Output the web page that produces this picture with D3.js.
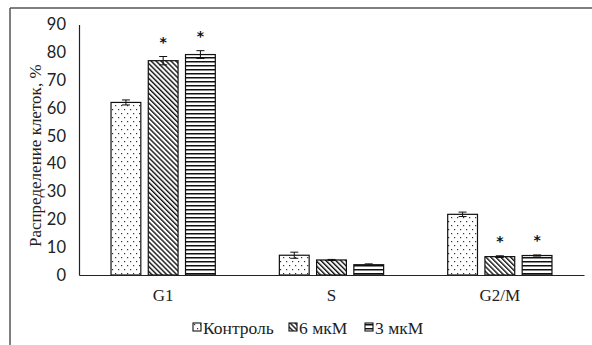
<!DOCTYPE html>
<html>
<head>
<meta charset="utf-8">
<script src="https://cdn.jsdelivr.net/npm/d3@7/dist/d3.min.js"></script>
<style>
  html, body { margin: 0; padding: 0; background: #fff; }
  svg { display: block; }
</style>
</head>
<body>
<svg id="chart" width="592" height="345"></svg>
<script>
// Cell cycle phases and treatment groups
const categories = ["G1", "S", "G2/M"];
const seriesNames = ["Контроль", "6 мкМ", "3 мкМ"];

// Percent of cells in each phase
const controlValues = [62, 7.1, 21.8];
const dose6Values = [77, 5.4, 6.6];
const dose3Values = [79.2, 3.7, 7.0];

// Error bar half-widths
const controlErrors = [0.9, 1.1, 0.8];
const dose6Errors = [1.5, 0.2, 0.3];
const dose3Errors = [1.4, 0.3, 0.2];

// Significance marks (*)
const controlSig = [false, false, false];
const dose6Sig = [true, false, true];
const dose3Sig = [true, false, true];

const yTicks = [0, 10, 20, 30, 40, 50, 60, 70, 80, 90];
const yTitle = "Распределение клеток, %";

const seriesValues = [controlValues, dose6Values, dose3Values];
const seriesErrors = [controlErrors, dose6Errors, dose3Errors];
const seriesSig = [controlSig, dose6Sig, dose3Sig];
const patternIds = ["pat-dots", "pat-diag", "pat-horiz"];

const svg = d3.select("#chart");
const W = 592, H = 345;

// Outer frame (top and left edges)
svg.append("line").attr("x1", 10).attr("x2", W).attr("y1", 8).attr("y2", 8)
  .attr("stroke", "#555").attr("stroke-width", 1.5);
svg.append("line").attr("x1", 10).attr("x2", 10).attr("y1", 8).attr("y2", H)
  .attr("stroke", "#555").attr("stroke-width", 1.5);

// Fill patterns
const defs = svg.append("defs");
const pDots = defs.append("pattern").attr("id", "pat-dots")
  .attr("patternUnits", "userSpaceOnUse").attr("width", 6).attr("height", 8);
pDots.append("rect").attr("width", 6).attr("height", 8).attr("fill", "#fff");
pDots.append("rect").attr("x", 1).attr("y", 1).attr("width", 1.2).attr("height", 1.2).attr("fill", "#333");
pDots.append("rect").attr("x", 4).attr("y", 5).attr("width", 1.2).attr("height", 1.2).attr("fill", "#333");

const pDiag = defs.append("pattern").attr("id", "pat-diag")
  .attr("patternUnits", "userSpaceOnUse").attr("width", 3.5).attr("height", 3.5)
  .attr("patternTransform", "rotate(-45)");
pDiag.append("rect").attr("width", 3.5).attr("height", 3.5).attr("fill", "#fff");
pDiag.append("rect").attr("x", 0).attr("y", 0).attr("width", 1.4).attr("height", 3.5).attr("fill", "#111");

const pHoriz = defs.append("pattern").attr("id", "pat-horiz")
  .attr("patternUnits", "userSpaceOnUse").attr("width", 6).attr("height", 4);
pHoriz.append("rect").attr("width", 6).attr("height", 4).attr("fill", "#fff");
pHoriz.append("rect").attr("x", 0).attr("y", 1).attr("width", 6).attr("height", 1.5).attr("fill", "#111");

// Plot area
const plot = { left: 79, right: 584, top: 24.5, bottom: 275 };

const y = d3.scaleLinear().domain([0, 90]).range([plot.bottom, plot.top]);
const x0 = d3.scaleBand().domain(categories).range([plot.left, plot.right]).padding(0);
const x1 = d3.scaleBand().domain(seriesNames).range([0, x0.bandwidth()])
  .paddingInner(0.2).paddingOuter(0.86);

// Y axis
const yAxis = d3.axisLeft(y).tickValues(yTicks).tickSize(0).tickPadding(13);
const gy = svg.append("g").attr("transform", `translate(${plot.left},0)`).call(yAxis);
gy.select(".domain").attr("stroke", "#222").attr("stroke-width", 1.2);
gy.selectAll("text").attr("font-family", "Lato, 'Open Sans', sans-serif")
  .attr("font-size", 16.5).attr("fill", "#222");

// Y title
svg.append("text")
  .attr("transform", `translate(41,${(plot.top + plot.bottom) / 2 + 6}) rotate(-90)`)
  .attr("text-anchor", "middle")
  .attr("font-family", "'Liberation Serif', 'Times New Roman', serif")
  .attr("font-size", 17).attr("fill", "#222")
  .text(yTitle);

// Bars
const rows = [];
categories.forEach((c, ci) => {
  seriesNames.forEach((s, si) => {
    rows.push({ cat: c, ser: s, si, v: seriesValues[si][ci], e: seriesErrors[si][ci], sig: seriesSig[si][ci] });
  });
});

const groups = svg.append("g");
groups.selectAll("rect.bar").data(rows).join("rect")
  .attr("class", "bar")
  .attr("x", d => x0(d.cat) + x1(d.ser))
  .attr("y", d => y(d.v))
  .attr("width", x1.bandwidth())
  .attr("height", d => y(0) - y(d.v))
  .attr("fill", d => `url(#${patternIds[d.si]})`)
  .attr("stroke", "#111").attr("stroke-width", 1.2);

// Error bars
const eb = groups.selectAll("g.err").data(rows).join("g").attr("class", "err")
  .attr("transform", d => `translate(${x0(d.cat) + x1(d.ser) + x1.bandwidth() / 2},0)`);
eb.append("line").attr("y1", d => y(d.v - d.e)).attr("y2", d => y(d.v + d.e))
  .attr("stroke", "#111").attr("stroke-width", 1);
eb.append("line").attr("x1", -4).attr("x2", 4)
  .attr("y1", d => y(d.v + d.e)).attr("y2", d => y(d.v + d.e))
  .attr("stroke", "#111").attr("stroke-width", 1);
eb.append("line").attr("x1", -4).attr("x2", 4)
  .attr("y1", d => y(d.v - d.e)).attr("y2", d => y(d.v - d.e))
  .attr("stroke", "#111").attr("stroke-width", 1);

// Significance asterisks
groups.selectAll("text.sig").data(rows.filter(d => d.sig)).join("text")
  .attr("class", "sig")
  .attr("x", d => x0(d.cat) + x1(d.ser) + x1.bandwidth() / 2)
  .attr("y", d => y(d.v + d.e) - 10)
  .attr("text-anchor", "middle")
  .attr("font-family", "'DejaVu Sans', sans-serif")
  .attr("font-weight", "bold")
  .attr("font-size", 14).attr("fill", "#111")
  .text("*");

// X axis
const xAxis = d3.axisBottom(x0).tickSize(0).tickPadding(14);
const gx = svg.append("g").attr("transform", `translate(0,${plot.bottom})`).call(xAxis);
gx.select(".domain").attr("stroke", "#222").attr("stroke-width", 1.2);
gx.selectAll("text").attr("font-family", "'Liberation Serif', 'Times New Roman', serif")
  .attr("font-size", 17).attr("fill", "#222");

// Legend
const legendX = [193, 289, 365];
const lg = svg.append("g").selectAll("g").data(seriesNames).join("g")
  .attr("transform", (d, i) => `translate(${legendX[i]},323)`);
lg.append("rect").attr("width", 8).attr("height", 8)
  .attr("fill", (d, i) => `url(#${patternIds[i]})`)
  .attr("stroke", "#111").attr("stroke-width", 1.1);
lg.append("text").attr("x", 10).attr("y", 11)
  .attr("font-family", "'Liberation Serif', 'Times New Roman', serif")
  .attr("font-size", 17.5).attr("fill", "#222")
  .text(d => d);
</script>
</body>
</html>
